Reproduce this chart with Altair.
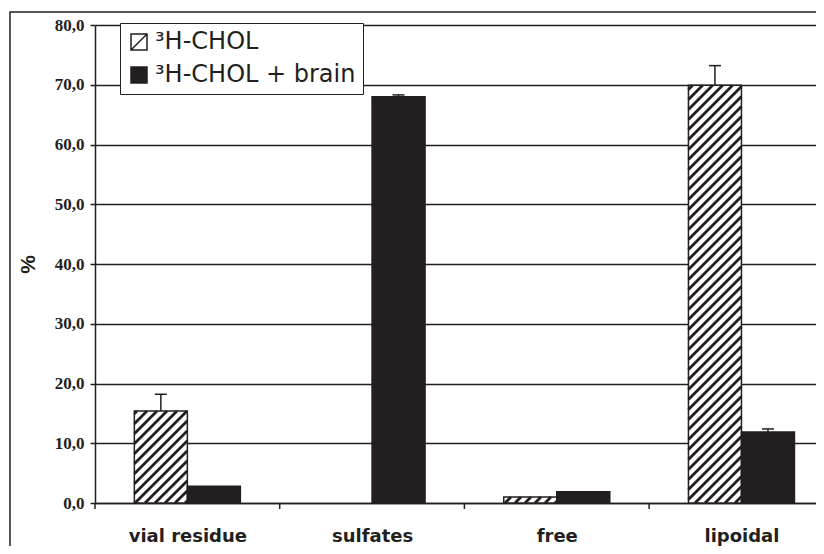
import math
import altair as alt
import pandas as pd

# ---- data ----
categories = ["vial residue", "sulfates", "free", "lipoidal"]
series = ["³H-CHOL", "³H-CHOL + brain"]
chol = [15.4, 0.0, 1.0, 69.9]
chol_err = [2.8, 0.0, 0.0, 3.3]
brain = [2.8, 68.0, 1.9, 11.9]
brain_err = [0.0, 0.3, 0.0, 0.5]
y_ticks = [0, 10, 20, 30, 40, 50, 60, 70, 80]
boundaries = [0, 1, 2, 3]

# ---- layout ----
W, H = 721, 478
BAND_PX = 184.7
XMAX = W / BAND_PX
BAR = 0.287          # bar width as fraction of a category band
INK = "#231f20"
PPX = BAND_PX
PPY = H / 80.0
PERIOD = 10.0        # hatch period, px

rows = []
for i, cat in enumerate(categories):
    c = i + 0.5
    for s, vals, errs in ((series[0], chol, chol_err), (series[1], brain, brain_err)):
        v = vals[i]
        e = errs[i]
        if s == series[0]:
            x0, x1 = c - BAR, c
        else:
            x0, x1 = c, c + BAR
        rows.append(dict(category=cat, series=s, x0=x0, x1=x1, xc=(x0 + x1) / 2,
                         value=v, top=v + e, err=e))
bars = pd.DataFrame(rows)
bars_drawn = bars[bars["value"] > 0]
errs_df = bars[bars["err"] > 0]

# hatch segments for the hatched series (derived from bar geometry)
hatch = []
for _, r in bars[(bars["series"] == series[0]) & (bars["value"] > 0)].iterrows():
    u0, u1 = r.x0 * PPX, r.x1 * PPX
    v0, v1 = 0.0, r.value * PPY
    cmin, cmax = v0 - u1, v1 - u0
    k = math.floor(cmin / PERIOD)
    while k * PERIOD <= cmax:
        cc = k * PERIOD
        ua = max(u0, v0 - cc)
        ub = min(u1, v1 - cc)
        if ub - ua > 0.3:
            hatch.append(dict(hx=ua / PPX, hy=(ua + cc) / PPY,
                              hx2=ub / PPX, hy2=(ub + cc) / PPY))
        k += 1
hatch_df = pd.DataFrame(hatch)

xscale = alt.Scale(domain=[0, XMAX], nice=False, zero=False)
yscale = alt.Scale(domain=[0, 80], nice=False)

label_expr = "[" + ",".join("'%s'" % c for c in categories) + "][floor(datum.value)]"

x_axis = alt.Axis(values=[0.5, 1.5, 2.5, 3.5], labelExpr=label_expr, ticks=False,
                  tickSize=0, grid=False, domainColor=INK, domainWidth=1.5,
                  labelFont="DejaVu Sans", labelFontWeight="bold", labelFontSize=18,
                  labelColor=INK, labelPadding=24, title=None)
y_axis = alt.Axis(values=y_ticks, labelExpr="replace(format(datum.value, '.1f'), '.', ',')",
                  labelFont="Liberation Serif", labelFontWeight="bold", labelFontSize=17,
                  labelColor=INK, tickSize=5, tickColor=INK, tickWidth=1.5,
                  domainColor=INK, domainWidth=1.5, gridColor=INK, gridWidth=1.5,
                  labelPadding=6, title="%", titleFont="Liberation Sans",
                  titleFontWeight="bold", titleFontSize=21, titleColor=INK,
                  titlePadding=16)

frame = alt.Chart(pd.DataFrame({"a": [0]})).mark_rect(
    filled=False, stroke=INK, strokeWidth=1.5, clip=False
).encode(x=alt.value(-85), x2=alt.value(W + 40), y=alt.value(-13), y2=alt.value(H + 100))

rects = alt.Chart(bars_drawn).mark_rect(stroke=INK, strokeWidth=1.5, opacity=1).encode(
    x=alt.X("x0:Q", scale=xscale, axis=x_axis),
    x2="x1:Q",
    y=alt.Y("value:Q", scale=yscale, axis=y_axis),
    y2=alt.datum(0),
    fill=alt.Color("series:N",
                   scale=alt.Scale(domain=series, range=["white", INK]),
                   legend=alt.Legend(title=None, orient="none", legendX=25, legendY=-2,
                                     symbolType="M-1,-1H1V1H-1Z M-1,1L1,-1",
                                     symbolSize=256, symbolStrokeColor=INK,
                                     symbolStrokeWidth=1.5, labelFont="DejaVu Sans",
                                     labelFontSize=24, labelColor=INK, labelOffset=4,
                                     labelLimit=400, rowPadding=9, padding=7,
                                     strokeColor=INK, fillColor="white")),
)

hatch_lines = alt.Chart(hatch_df).mark_rule(color=INK, strokeWidth=2.8, strokeCap="butt").encode(
    x=alt.X("hx:Q", scale=xscale), y=alt.Y("hy:Q", scale=yscale),
    x2="hx2:Q", y2="hy2:Q",
)

err_rules = alt.Chart(errs_df).mark_rule(color=INK, strokeWidth=1.5).encode(
    x=alt.X("xc:Q", scale=xscale), y=alt.Y("value:Q", scale=yscale), y2="top:Q",
)
err_caps = alt.Chart(errs_df).mark_tick(orient="horizontal", size=12, thickness=1.5,
                                         color=INK, opacity=1).encode(
    x=alt.X("xc:Q", scale=xscale), y=alt.Y("top:Q", scale=yscale),
)

ticks = alt.Chart(pd.DataFrame({"b": boundaries})).mark_rule(color=INK, strokeWidth=1.5).encode(
    x=alt.X("b:Q", scale=xscale), y=alt.value(H), y2=alt.value(H + 6),
)

chart = alt.layer(frame, rects, hatch_lines, err_rules, err_caps, ticks).properties(
    width=W, height=H,
    autosize=alt.AutoSizeParams(type="none"),
    padding={"left": 87, "top": 17, "right": 0, "bottom": 43},
).configure_view(strokeWidth=0)

chart.save("out.html", embed_options={"renderer": "svg", "actions": False})
